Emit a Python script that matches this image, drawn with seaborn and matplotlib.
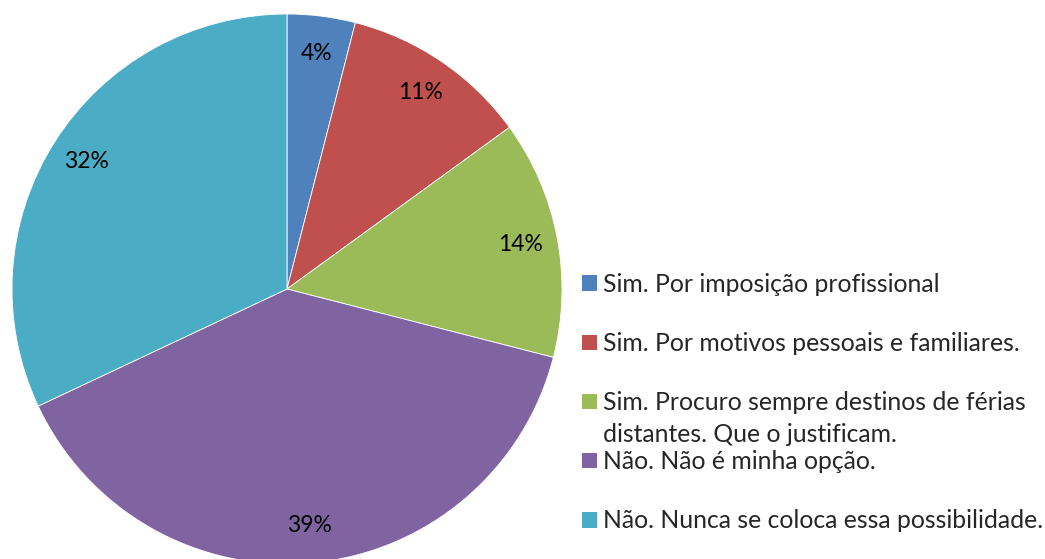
import textwrap
import matplotlib
matplotlib.use("Agg")
import matplotlib.pyplot as plt
from matplotlib.patches import Patch
import seaborn as sns

categories = [
    "Sim. Por imposição profissional",
    "Sim. Por motivos pessoais e familiares.",
    "Sim. Procuro sempre destinos de férias distantes. Que o justificam.",
    "Não. Não é minha opção.",
    "Não. Nunca se coloca essa possibilidade.",
]
shares = [4, 11, 14, 39, 32]
colors = ["#4F81BD", "#C0504D", "#9BBB59", "#8064A2", "#4BACC6"]

sns.set_theme(style="white")
plt.rcParams["font.family"] = ["Lato", "DejaVu Sans"]

W, H = 1045, 559
fig = plt.figure(figsize=(W / 100, H / 100), dpi=100)
fig.patch.set_facecolor("white")

# pie occupies a square box on the left side
ax = fig.add_axes([12 / W, -5 / H, 550 / W, 550 / H])
wedges, texts, autotexts = ax.pie(
    shares,
    colors=colors,
    startangle=90,
    counterclock=False,
    autopct=lambda p: f"{p:.0f}%",
    pctdistance=0.865,
    wedgeprops=dict(edgecolor="white", linewidth=0.6),
    textprops=dict(fontsize=16.5, color="black"),
)
ax.set_xlim(-1, 1)
ax.set_ylim(-1, 1)
ax.set_aspect("equal")
ax.axis("off")

# legend: wrapped entries keep the regular row pitch, the extra line overflows
wrapped = [textwrap.wrap(c, 40) for c in categories]
handles = [Patch(facecolor=c, edgecolor="none") for c in colors]
leg = fig.legend(
    handles,
    [w[0] for w in wrapped],
    loc="upper left",
    bbox_to_anchor=(582 / W, 1 - 273 / H),
    frameon=False,
    fontsize=17.8,
    handlelength=0.6,
    handleheight=0.6,
    handletextpad=0.25,
    labelspacing=1.46,
    borderaxespad=0,
    borderpad=0,
)
for txt, lines in zip(leg.get_texts(), wrapped):
    if len(lines) > 1:
        fig.canvas.draw()
        ax.annotate(
            "\n".join(lines[1:]),
            xy=(0, 0),
            xycoords=txt,
            xytext=(0, -6.5),
            textcoords="offset points",
            va="top",
            ha="left",
            fontsize=17.8,
            annotation_clip=False,
        )

fig.savefig("out.png", dpi=100)
